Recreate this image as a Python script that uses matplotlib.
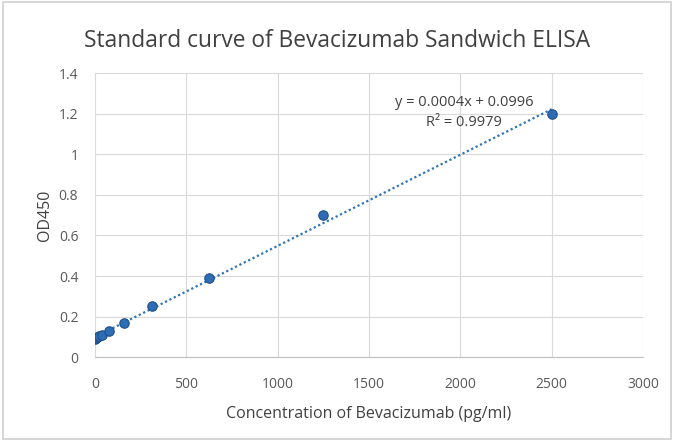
import matplotlib.pyplot as plt
import numpy as np

# standard curve points (pg/ml vs OD450)
conc = [0, 4.9, 9.8, 19.5, 39, 78, 156.25, 312.5, 625, 1250, 2500]
od450 = [0.09, 0.095, 0.10, 0.105, 0.11, 0.13, 0.17, 0.25, 0.39, 0.70, 1.20]

plt.rcParams['font.family'] = ['Open Sans', 'DejaVu Sans']

fig = plt.figure(figsize=(6.74, 4.41), dpi=100)
ax = fig.add_axes([0.141, 0.190, 0.813, 0.644])

# linear trendline
slope, intercept = np.polyfit(conc, od450, 1)
xs = np.array([0, max(conc)])
ax.plot(xs, slope * xs + intercept, linestyle=(0, (1, 1.2)), color='#2e75b6', lw=1.6, zorder=2)
ax.scatter(conc, od450, s=46, color='#2e6db4', edgecolor='#1f4e8c', linewidth=0.8, zorder=3)

ax.text(2020, 1.257, 'y = 0.0004x + 0.0996', ha='center', va='center', fontsize=10.5, color='#404040')
ax.text(2020, 1.158, 'R² = 0.9979', ha='center', va='center', fontsize=10.5, color='#404040')

ax.set_xlim(0, 3000)
ax.set_ylim(0, 1.4)
ax.set_xticks(np.arange(0, 3001, 500))
ax.set_yticks(np.arange(0, 1.41, 0.2))
ax.set_yticklabels(['0', '0.2', '0.4', '0.6', '0.8', '1', '1.2', '1.4'])
ax.grid(True, color='#d9d9d9', lw=0.8)
ax.set_axisbelow(True)
for s in ['top', 'right', 'left']:
    ax.spines[s].set_visible(False)
ax.spines['bottom'].set_color('#bfbfbf')
ax.tick_params(length=0, labelsize=10, colors='#595959')
ax.tick_params(axis='x', pad=14)
ax.tick_params(axis='y', pad=12)

ax.set_xlabel('Concentration of Bevacizumab (pg/ml)', fontsize=11.5, color='#404040', labelpad=10)
ax.set_ylabel('OD450', fontsize=11.5, color='#404040', labelpad=4)
fig.suptitle('Standard curve of Bevacizumab Sandwich ELISA', fontsize=16.4, color='#404040', y=0.935)

fig.patches.append(plt.Rectangle((0.004, 0.004), 0.992, 0.992, transform=fig.transFigure,
                                 fill=False, edgecolor='#d0d0d0', lw=1.2))

plt.savefig('out.png')
